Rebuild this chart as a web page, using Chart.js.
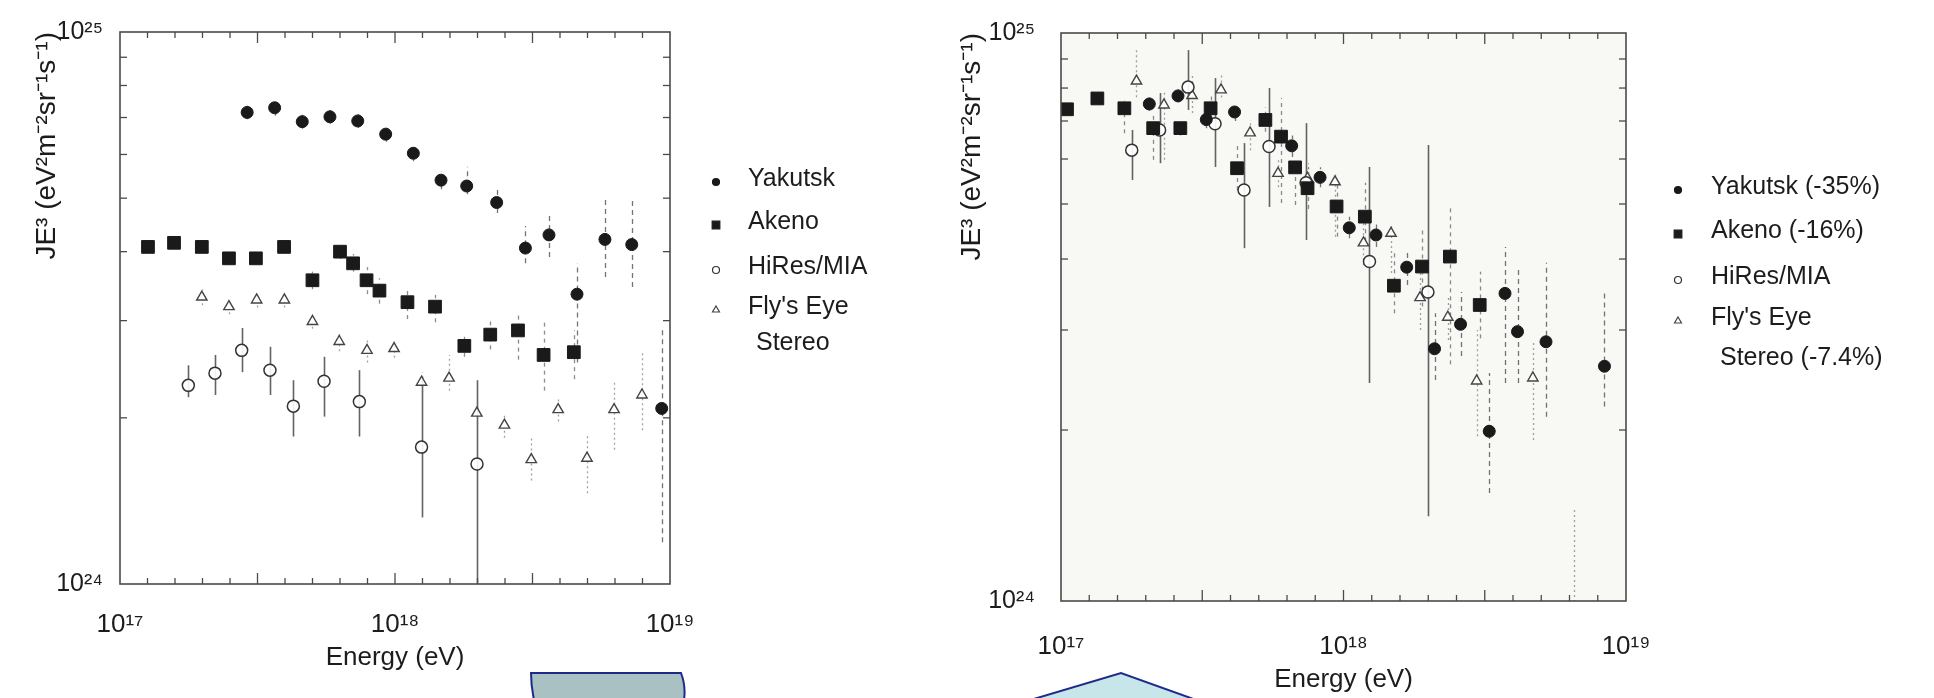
<!DOCTYPE html>
<html><head><meta charset="utf-8">
<script src="https://cdn.jsdelivr.net/npm/chart.js@4.4.1/dist/chart.umd.min.js"></script>
<style>
html,body{margin:0;padding:0;background:#fff;width:1934px;height:698px;overflow:hidden;}
#wrapL{position:absolute;left:0;top:0;width:920px;height:698px;}
#wrapR{position:absolute;left:920px;top:0;width:1014px;height:698px;}
#deco{position:absolute;left:0;top:0;pointer-events:none;}
</style></head><body>
<div id="wrapL"><canvas id="cL" width="920" height="698"></canvas></div>
<div id="wrapR"><canvas id="cR" width="1014" height="698"></canvas></div>
<svg id="deco" width="1934" height="698">
  <path d="M531 673 L681 673 Q686 686 684 700 L534 700 Q531 686 531 673 Z" fill="#a9c1c3" stroke="#1d2a8a" stroke-width="2"/>
  <polygon points="1027,701 1121,673 1199,701" fill="#c6e6ea" stroke="#1d2a8a" stroke-width="2"/>
</svg>
<script>
// ---------------- DATA (energy in eV, JE^3 in eV^2 m^-2 sr^-1 s^-1) ----------------
const xTickLabels = [1e17, 1e18, 1e19];
const yTickLabels = [1e24, 1e25];

// Left panel (original data)
const yakE_L  = [2.90e17,3.65e17,4.60e17,5.80e17,7.32e17,9.25e17,1.166e18,1.47e18,1.823e18,2.343e18,2.98e18,3.63e18,4.59e18,5.80e18,7.26e18,9.33e18];
const yakJ_L  = [7.15e24,7.29e24,6.88e24,7.02e24,6.90e24,6.53e24,6.03e24,5.39e24,5.26e24,4.91e24,4.06e24,4.29e24,3.35e24,4.21e24,4.12e24,2.08e24];
const yakLo_L = [6.95e24,7.05e24,6.68e24,6.82e24,6.70e24,6.33e24,5.83e24,5.19e24,5.08e24,4.70e24,3.81e24,3.91e24,2.52e24,3.60e24,3.45e24,1.19e24];
const yakHi_L = [7.35e24,7.55e24,7.10e24,7.22e24,7.10e24,6.73e24,6.25e24,5.60e24,5.70e24,5.21e24,4.45e24,4.70e24,3.81e24,4.98e24,4.98e24,2.90e24];

const akeE_L  = [1.264e17,1.572e17,1.984e17,2.49e17,3.12e17,3.95e17,5.01e17,6.31e17,7.04e17,7.88e17,8.78e17,1.11e18,1.398e18,1.787e18,2.22e18,2.80e18,3.47e18,4.47e18];
const akeJ_L  = [4.08e24,4.15e24,4.08e24,3.89e24,3.89e24,4.08e24,3.55e24,4.00e24,3.81e24,3.55e24,3.40e24,3.24e24,3.18e24,2.70e24,2.83e24,2.88e24,2.60e24,2.63e24];
const akeLo_L = [3.98e24,4.07e24,3.98e24,3.80e24,3.80e24,3.98e24,3.42e24,3.88e24,3.68e24,3.35e24,3.22e24,3.02e24,2.98e24,2.58e24,2.66e24,2.55e24,2.24e24,2.35e24];
const akeHi_L = [4.18e24,4.23e24,4.18e24,3.98e24,3.98e24,4.18e24,3.68e24,4.12e24,3.96e24,3.75e24,3.58e24,3.43e24,3.34e24,2.83e24,3.00e24,3.10e24,3.00e24,2.88e24];

const hirE_L  = [1.772e17,2.215e17,2.77e17,3.51e17,4.27e17,5.52e17,7.42e17,1.249e18,1.987e18];
const hirJ_L  = [2.29e24,2.41e24,2.65e24,2.44e24,2.10e24,2.33e24,2.14e24,1.77e24,1.65e24];
const hirLo_L = [2.18e24,2.20e24,2.42e24,2.20e24,1.85e24,2.01e24,1.85e24,1.32e24,0.9e24];
const hirHi_L = [2.49e24,2.60e24,2.91e24,2.69e24,2.34e24,2.58e24,2.44e24,2.37e24,2.34e24];

const feyE_L  = [1.984e17,2.49e17,3.14e17,3.96e17,5.01e17,6.27e17,7.91e17,9.92e17,1.249e18,1.572e18,1.984e18,2.50e18,3.13e18,3.92e18,4.99e18,6.26e18,7.91e18];
const feyJ_L  = [3.31e24,3.18e24,3.27e24,3.27e24,2.99e24,2.75e24,2.65e24,2.67e24,2.32e24,2.36e24,2.04e24,1.94e24,1.68e24,2.07e24,1.69e24,2.07e24,2.20e24];
const feyLo_L = [3.20e24,3.08e24,3.17e24,3.17e24,2.90e24,2.64e24,2.52e24,2.57e24,2.22e24,2.24e24,1.95e24,1.84e24,1.54e24,1.97e24,1.46e24,1.75e24,1.90e24];
const feyHi_L = [3.42e24,3.28e24,3.37e24,3.37e24,3.08e24,2.86e24,2.78e24,2.75e24,2.42e24,2.60e24,2.14e24,2.04e24,1.85e24,2.17e24,1.87e24,2.34e24,2.62e24];

// Right panel (energy-rescaled data)
const yakE_R  = [2.054e17,2.595e17,3.268e17,4.115e17,6.555e17,8.26e17,1.048e18,1.303e18,1.674e18,2.10e18,2.596e18,3.28e18,3.73e18,4.13e18,5.21e18,8.39e18];
const yakJ_R  = [7.50e24,7.75e24,7.04e24,7.26e24,6.33e24,5.57e24,4.54e24,4.41e24,3.87e24,2.78e24,3.07e24,1.99e24,3.48e24,2.98e24,2.86e24,2.59e24];
const yakLo_R = [7.30e24,7.55e24,6.80e24,7.00e24,6.05e24,5.35e24,4.35e24,4.20e24,3.60e24,2.45e24,2.70e24,1.55e24,2.42e24,2.42e24,2.11e24,2.20e24];
const yakHi_R = [7.70e24,7.95e24,7.30e24,7.50e24,6.60e24,5.80e24,4.75e24,4.60e24,4.15e24,3.21e24,3.50e24,2.52e24,4.20e24,3.87e24,3.94e24,3.53e24];

const akeE_R  = [1.05e17,1.345e17,1.676e17,2.12e17,2.645e17,3.385e17,4.20e17,5.29e17,6.01e17,6.74e17,7.46e17,9.45e17,1.19e18,1.508e18,1.896e18,2.38e18,3.035e18];
const akeJ_R  = [7.34e24,7.67e24,7.37e24,6.80e24,6.80e24,7.37e24,5.78e24,7.03e24,6.57e24,5.80e24,5.33e24,4.95e24,4.75e24,3.59e24,3.88e24,4.04e24,3.32e24];
const akeLo_R = [7.20e24,7.50e24,6.66e24,5.98e24,6.60e24,6.90e24,5.29e24,6.70e24,5.02e24,4.98e24,4.90e24,4.38e24,4.30e24,3.21e24,3.30e24,2.61e24,2.90e24];
const akeHi_R = [7.50e24,7.85e24,7.60e24,7.20e24,7.00e24,7.85e24,6.40e24,7.40e24,7.68e24,6.05e24,5.80e24,5.50e24,5.45e24,4.10e24,4.50e24,4.94e24,3.80e24];

const hirE_R  = [1.78e17,2.234e17,2.817e17,3.51e17,4.445e17,5.45e17,7.37e17,1.236e18,1.99e18];
const hirJ_R  = [6.22e24,6.75e24,8.03e24,6.92e24,5.29e24,6.31e24,5.45e24,3.96e24,3.50e24];
const hirLo_R = [5.51e24,5.90e24,7.32e24,5.81e24,4.18e24,4.94e24,4.32e24,2.42e24,1.41e24];
const hirHi_R = [6.75e24,7.84e24,9.33e24,8.33e24,6.40e24,8.00e24,6.94e24,5.81e24,6.35e24];

const feyE_R  = [1.85e17,2.315e17,2.91e17,3.685e17,4.67e17,5.865e17,7.46e17,9.33e17,1.177e18,1.473e18,1.866e18,2.34e18,2.96e18,4.68e18,6.55e18];
const feyJ_R  = [8.23e24,7.47e24,7.76e24,7.94e24,6.67e24,5.66e24,5.55e24,5.47e24,4.27e24,4.44e24,3.42e24,3.16e24,2.44e24,2.47e24,0.95e24];
const feyLo_R = [7.71e24,5.98e24,7.23e24,7.70e24,6.22e24,5.35e24,5.20e24,4.38e24,3.90e24,3.78e24,3.00e24,2.88e24,1.95e24,1.92e24,0.90e24];
const feyHi_R = [9.33e24,7.90e24,8.40e24,8.50e24,7.03e24,5.98e24,5.90e24,5.67e24,4.70e24,4.62e24,3.80e24,3.44e24,3.00e24,2.88e24,1.46e24];

const legendLeft  = ['Yakutsk', 'Akeno', 'HiRes/MIA', "Fly's Eye\nStereo"];
const legendRight = ['Yakutsk (-35%)', 'Akeno (-16%)', 'HiRes/MIA', "Fly's Eye\nStereo (-7.4%)"];
const yTitle = 'JE\u00B3 (eV\u00B2m\u207B\u00B2sr\u207B\u00B9s\u207B\u00B9)';
const xTitle = 'Energy (eV)';

// ---------------- helpers ----------------
const FONT = "'Liberation Sans', Arial, Helvetica, sans-serif";
const TXT = '#1c1c1c';
const SUP = {'0':'\u2070','1':'\u00B9','2':'\u00B2','3':'\u00B3','4':'\u2074','5':'\u2075','6':'\u2076','7':'\u2077','8':'\u2078','9':'\u2079','-':'\u207B'};
function pow10Label(v){ const e = Math.round(Math.log10(v)); return '10' + String(e).split('').map(c=>SUP[c]).join(''); }
function pts(xs, ys){ return xs.map((x,i)=>({x:x, y:ys[i]})); }

const STY = {
  yak: {pointStyle:'circle', pointRadius:6, pointBackgroundColor:'#1a1a1a', pointBorderColor:'#1a1a1a', pointBorderWidth:1, errColor:'rgba(70,70,70,0.75)', errDash:[5,4], errWidth:1.3},
  ake: {pointStyle:'rect', pointRadius:9, pointBackgroundColor:'#1a1a1a', pointBorderColor:'#1a1a1a', pointBorderWidth:1, errColor:'rgba(90,90,90,0.7)', errDash:[4,4], errWidth:1.3},
  hir: {pointStyle:'circle', pointRadius:6, pointBackgroundColor:'rgba(255,255,255,0.9)', pointBorderColor:'#333', pointBorderWidth:1.5, errColor:'rgba(60,60,60,0.8)', errDash:[], errWidth:1.6},
  fey: {pointStyle:'triangle', pointRadius:6, pointBackgroundColor:'rgba(255,255,255,0.9)', pointBorderColor:'#444', pointBorderWidth:1.4, errColor:'rgba(110,110,110,0.65)', errDash:[2,3], errWidth:1.3}
};
function ds(label, sty, xs, ys, lo, hi){
  return Object.assign({label:label, data:pts(xs,ys), errLo:lo, errHi:hi, showLine:false, clip:0, pointHoverRadius:sty.pointRadius}, sty);
}

const errorBars = {
  id:'errorBars',
  beforeDatasetsDraw(chart){
    const {ctx, chartArea:ca, scales:{x,y}} = chart;
    ctx.save();
    ctx.beginPath(); ctx.rect(ca.left, ca.top, ca.width, ca.height); ctx.clip();
    chart.data.datasets.forEach(d => {
      if(!d.errLo) return;
      ctx.strokeStyle = d.errColor; ctx.lineWidth = d.errWidth; ctx.setLineDash(d.errDash);
      d.data.forEach((p,i) => {
        const px = Math.round(x.getPixelForValue(p.x)) + 0.5;
        ctx.beginPath();
        ctx.moveTo(px, y.getPixelForValue(d.errLo[i]));
        ctx.lineTo(px, y.getPixelForValue(d.errHi[i]));
        ctx.stroke();
      });
    });
    ctx.restore();
  }
};

const frame = {
  id:'frame',
  beforeDraw(chart, args, o){
    if(!o.bg) return;
    const {ctx, chartArea:ca} = chart;
    ctx.save(); ctx.fillStyle = o.bg; ctx.fillRect(ca.left, ca.top, ca.width, ca.height); ctx.restore();
  },
  afterDatasetsDraw(chart, args, o){
    const {ctx, chartArea:ca, scales:{x,y}} = chart;
    ctx.save();
    ctx.strokeStyle = o.color; ctx.lineWidth = o.width;
    ctx.strokeRect(ca.left, ca.top, ca.width, ca.height);
    ctx.lineWidth = 1.3;
    const seg = (a,b,c,d)=>{ctx.beginPath(); ctx.moveTo(a,b); ctx.lineTo(c,d); ctx.stroke();};
    const lx0 = Math.log10(x.min), lx1 = Math.log10(x.max);
    for(let k=1; k<Math.round((lx1-lx0)*10); k++){
      const v = Math.pow(10, lx0 + k/10);
      const px = x.getPixelForValue(v);
      const L = (k%5===0) ? 11 : 6;
      seg(px, ca.bottom, px, ca.bottom-L);
      seg(px, ca.top, px, ca.top+L);
    }
    for(let m=2; m<=9; m++){
      const py = y.getPixelForValue(m*y.min);
      seg(ca.left, py, ca.left+7, py);
      seg(ca.right, py, ca.right-7, py);
    }
    ctx.restore();
  }
};

function drawMarker(ctx, d, x, y, r){
  ctx.save();
  ctx.fillStyle = d.pointBackgroundColor; ctx.strokeStyle = d.pointBorderColor; ctx.lineWidth = 1.2;
  ctx.beginPath();
  if(d.pointStyle==='circle'){ ctx.arc(x, y, r, 0, Math.PI*2); }
  else if(d.pointStyle==='rect'){ const s = r*0.85; ctx.rect(x-s, y-s, 2*s, 2*s); }
  else { ctx.moveTo(x, y-r); ctx.lineTo(x+r*0.87, y+r*0.5); ctx.lineTo(x-r*0.87, y+r*0.5); ctx.closePath(); }
  ctx.fill(); ctx.stroke();
  ctx.restore();
}

const sideLegend = {
  id:'sideLegend',
  afterDraw(chart, args, o){
    const ctx = chart.ctx;
    ctx.save();
    ctx.font = o.font; ctx.fillStyle = TXT; ctx.textBaseline = 'middle'; ctx.textAlign = 'left';
    chart.data.datasets.forEach((d,i) => {
      const y0 = o.rows[i];
      drawMarker(ctx, d, o.markerX, y0 + 3, o.markerR[i]);
      d.label.split('\n').forEach((t,j) => ctx.fillText(t, o.textX + (j ? o.indent : 0), y0 + j*o.lineGap));
    });
    ctx.restore();
  }
};

function makeChart(id, datasets, L){
  const f = (size) => ({family: FONT, size: size});
  return new Chart(document.getElementById(id), {
    type:'scatter',
    data:{datasets: datasets},
    plugins:[errorBars, frame, sideLegend],
    options:{
      responsive:false, animation:false, events:[],
      layout:{padding:{left:0, top:L.top, right:L.right, bottom:0}},
      plugins:{
        legend:{display:false}, tooltip:{enabled:false},
        frame:{bg:L.bg, color:'#4a4a4a', width:1.6},
        sideLegend:{font:'25px ' + FONT, markerX:L.legMarkerX, textX:L.legTextX, rows:L.rows, lineGap:L.lineGap, indent:L.indent, markerR:[3.5,4.5,3.5,4]}
      },
      scales:{
        x:{
          type:'logarithmic', min:xTickLabels[0], max:xTickLabels[xTickLabels.length-1], position:'bottom',
          afterBuildTicks: s => { s.ticks = xTickLabels.map(v => ({value:v})); },
          afterFit: s => { s.height = L.xH; },
          grid:{display:false}, border:{display:false},
          ticks:{callback: v => pow10Label(v), font:f(26), color:TXT, padding:L.xTickPad, autoSkip:false, maxRotation:0},
          title:{display:true, text:xTitle, font:f(26), color:TXT, padding:{top:0, bottom:L.xTitlePad}}
        },
        y:{
          type:'logarithmic', min:yTickLabels[0], max:yTickLabels[yTickLabels.length-1], position:'left',
          afterBuildTicks: s => { s.ticks = yTickLabels.map(v => ({value:v})); },
          afterFit: s => { s.width = L.yW; },
          grid:{display:false}, border:{display:false},
          ticks:{callback: v => pow10Label(v), font:f(25), color:TXT, padding:L.yTickPad, autoSkip:false},
          title:{display:true, text:yTitle, align:'end', font:f(28), color:TXT, padding:{top:L.yTitlePad, bottom:0}}
        }
      }
    }
  });
}

makeChart('cL', [
  ds(legendLeft[0], STY.yak, yakE_L, yakJ_L, yakLo_L, yakHi_L),
  ds(legendLeft[1], STY.ake, akeE_L, akeJ_L, akeLo_L, akeHi_L),
  ds(legendLeft[2], STY.hir, hirE_L, hirJ_L, hirLo_L, hirHi_L),
  ds(legendLeft[3], STY.fey, feyE_L, feyJ_L, feyLo_L, feyHi_L)
], {top:32, right:250, xH:114, yW:120, xTickPad:17, xTitlePad:25, yTickPad:9, yTitlePad:30, bg:null,
    legMarkerX:716, legTextX:748, rows:[179,222,267,307], lineGap:36, indent:8});

makeChart('cR', [
  ds(legendRight[0], STY.yak, yakE_R, yakJ_R, yakLo_R, yakHi_R),
  ds(legendRight[1], STY.ake, akeE_R, akeJ_R, akeLo_R, akeHi_R),
  ds(legendRight[2], STY.hir, hirE_R, hirJ_R, hirLo_R, hirHi_R),
  ds(legendRight[3], STY.fey, feyE_R, feyJ_R, feyLo_R, feyHi_R)
], {top:33, right:308, xH:97, yW:141, xTickPad:22, xTitlePad:3, yTickPad:18, yTitlePad:35, bg:'#f8f9f5',
    legMarkerX:1678-920, legTextX:1711-920, rows:[187,231,277,318], lineGap:40, indent:9});
</script>
</body></html>
